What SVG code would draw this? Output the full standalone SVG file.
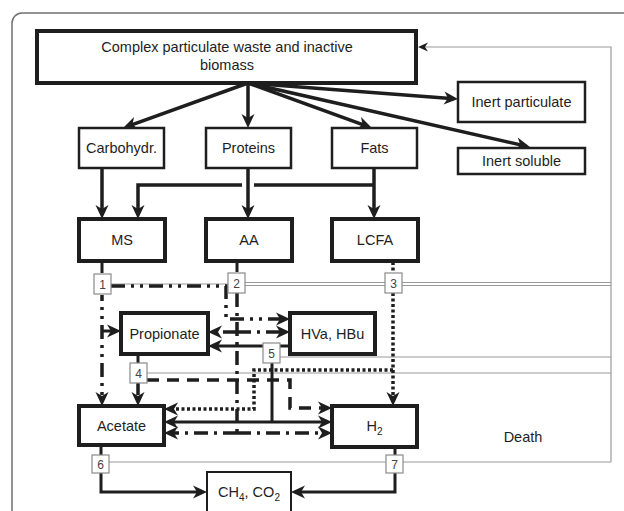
<svg xmlns="http://www.w3.org/2000/svg" width="624" height="511" viewBox="0 0 624 511">
<style>
text{font-family:"Liberation Sans",Arial,sans-serif;font-size:14.5px;fill:#1e1e1e;text-anchor:middle}
.num{font-size:12px;fill:#444}
.thick{fill:#fff;stroke:#1e1e1e;stroke-width:4}
.med{fill:#fff;stroke:#1e1e1e;stroke-width:2.5}
.thin{fill:#fff;stroke:#1e1e1e;stroke-width:2}
.nb{fill:#fff;stroke:#8a8a8a;stroke-width:1.2}
.c{fill:none;stroke:#1e1e1e;stroke-width:3.5}
.s{fill:none;stroke:#1e1e1e;stroke-width:3}
.dd{fill:none;stroke:#1e1e1e;stroke-width:3.5;stroke-dasharray:14 6 3 6 3 6}
.dt{fill:none;stroke:#1e1e1e;stroke-width:3.5;stroke-dasharray:14 6 3 6}
.dot{fill:none;stroke:#1e1e1e;stroke-width:3.5;stroke-dasharray:3 2.5}
.dash{fill:none;stroke:#1e1e1e;stroke-width:3.5;stroke-dasharray:12 8}
.g{fill:none;stroke:#9a9a9a;stroke-width:1.2}
</style>
<defs>
<marker id="ah" viewBox="-11 -7 16 14" refX="0" refY="0" markerWidth="16" markerHeight="14" markerUnits="userSpaceOnUse" orient="auto">
<path d="M-10,-6.5 L4,0 L-10,6.5 L-6,0 Z" fill="#1e1e1e"/>
</marker>
<marker id="ahs" viewBox="-8 -5 12 10" refX="0" refY="0" markerWidth="12" markerHeight="10" markerUnits="userSpaceOnUse" orient="auto">
<path d="M-6,-4.5 L4,0 L-6,4.5 L-3,0 Z" fill="#1e1e1e"/>
</marker>
</defs>
<rect x="12" y="13" width="720" height="620" rx="10" fill="none" stroke="#707070" stroke-width="1.5"/>
<g id="connectors">
<g id="grey-lines">
<path class="g" d="M111 284 H228"/>
<path class="g" d="M245 282.5 H611 M245 285.5 H611"/>
<path class="g" d="M280 357 H611"/>
<path class="g" d="M147 373 H611"/>
<path class="g" d="M109 462 H611"/>
<path class="g" d="M611 462 V47 H422" marker-end="url(#ahs)"/>
</g>
<g id="hydrolysis">
<path class="c" d="M248 83 L126.8 126.6" marker-end="url(#ah)"/>
<path class="c" d="M248 83 V124" marker-end="url(#ah)"/>
<path class="c" d="M248 83 L368.2 126.6" marker-end="url(#ah)"/>
<path class="c" d="M248 83 L454 98.7" marker-end="url(#ah)"/>
<path class="c" d="M248 83 L526.1 146.1" marker-end="url(#ah)"/>
<path class="c" d="M102 168 V215" marker-end="url(#ah)"/>
<path class="c" d="M248 168 V215" marker-end="url(#ah)"/>
<path class="c" d="M374 168 V215" marker-end="url(#ah)"/>
<path class="c" d="M374 185 H254"/>
<path class="c" d="M242 185 H138 V215" marker-end="url(#ah)"/>
</g>
<g id="stubs">
<path class="s" d="M102 261 V273"/>
<path class="s" d="M237 261 V272"/>
<path class="dot" d="M393 262 V272"/>
<path class="s" d="M138 354 V363"/>
<path class="s" d="M101 445 V456"/>
<path class="s" d="M395 447 V456"/>
</g>
<g id="p1">
<path class="dd" d="M102 295 V402" stroke-dashoffset="8" marker-end="url(#ah)"/>
<path class="s" d="M102 331 H117" marker-end="url(#ah)"/>
<path class="dd" d="M111 286 H226 V319 H286" marker-end="url(#ah)"/>
</g>
<g id="p2">
<path class="dt" d="M237 293 V433"/>
<path class="dt" d="M237 332 H212" marker-end="url(#ah)"/>
<path class="dt" d="M237 332 H286" marker-end="url(#ah)"/>
<path class="dt" d="M237 433 H168" marker-end="url(#ah)"/>
<path class="dt" d="M237 433 H328" marker-end="url(#ah)"/>
</g>
<g id="p3">
<path class="dot" d="M393 293 V402" marker-end="url(#ah)"/>
<path class="dot" d="M393 370 H254 V409 H168" marker-end="url(#ah)"/>
</g>
<g id="p4">
<path class="dash" d="M138 383 V402" marker-end="url(#ah)"/>
<path class="dash" d="M147 380 H290 V408 H328" marker-end="url(#ah)"/>
</g>
<g id="p5">
<path class="s" d="M290 346 H212" marker-end="url(#ah)"/>
<path class="s" d="M272 363 V422"/>
<path class="s" d="M272 422 H168" marker-end="url(#ah)"/>
<path class="s" d="M272 422 H328" marker-end="url(#ah)"/>
</g>
<g id="p67">
<path class="s" d="M101 473 V492 H203" marker-end="url(#ah)"/>
<path class="s" d="M395 473 V492 H295" marker-end="url(#ah)"/>
</g>
</g>
<g id="complex"><rect class="thick" x="37" y="31" width="379" height="52"/><text x="227" y="52">Complex particulate waste and inactive</text><text x="227" y="70">biomass</text></g>
<g id="inert-particulate"><rect class="med" x="458" y="82" width="127" height="40"/><text x="521.5" y="107">Inert particulate</text></g>
<g id="inert-soluble"><rect class="med" x="458" y="148" width="127" height="26"/><text x="521.5" y="166">Inert soluble</text></g>
<g id="carbohydr"><rect class="med" x="79" y="128" width="85" height="40"/><text x="121.5" y="153">Carbohydr.</text></g>
<g id="proteins"><rect class="med" x="206" y="128" width="85" height="40"/><text x="248.5" y="153">Proteins</text></g>
<g id="fats"><rect class="med" x="332" y="128" width="85" height="40"/><text x="374.5" y="153">Fats</text></g>
<g id="ms"><rect class="thick" x="79" y="219" width="86" height="42"/><text x="122" y="245">MS</text></g>
<g id="aa"><rect class="thick" x="206" y="219" width="86" height="42"/><text x="249" y="245">AA</text></g>
<g id="lcfa"><rect class="thick" x="332" y="219" width="86" height="42"/><text x="375" y="245">LCFA</text></g>
<g id="propionate"><rect class="thick" x="121" y="313" width="87" height="41"/><text x="164.5" y="338.5">Propionate</text></g>
<g id="hva-hbu"><rect class="thick" x="290" y="313" width="85" height="41"/><text x="332.5" y="338.5">HVa, HBu</text></g>
<g id="acetate"><rect class="thick" x="79" y="406" width="85" height="39"/><text x="121.5" y="430.5">Acetate</text></g>
<g id="h2"><rect class="thick" x="332" y="406" width="85" height="41"/><text x="374.5" y="431">H<tspan font-size="10" dy="4">2</tspan></text></g>
<g id="ch4-co2"><rect class="thin" x="207" y="472" width="84" height="50"/><text x="249" y="497">CH<tspan font-size="10" dy="4">4</tspan><tspan dy="-4">, CO</tspan><tspan font-size="10" dy="4">2</tspan></text></g>
<g id="death"><text x="523" y="442">Death</text></g>
<g id="n1"><rect class="nb" x="94" y="274" width="17" height="20"/><text class="num" x="102.5" y="288.5">1</text></g>
<g id="n2"><rect class="nb" x="228" y="273" width="17" height="20"/><text class="num" x="236.5" y="287.5">2</text></g>
<g id="n3"><rect class="nb" x="385" y="273" width="17" height="20"/><text class="num" x="393.5" y="287.5">3</text></g>
<g id="n4"><rect class="nb" x="130" y="363" width="17" height="20"/><text class="num" x="138.5" y="377.5">4</text></g>
<g id="n5"><rect class="nb" x="263" y="343" width="17" height="20"/><text class="num" x="271.5" y="357.5">5</text></g>
<g id="n6"><rect class="nb" x="92" y="455" width="17" height="18"/><text class="num" x="100.5" y="468.5">6</text></g>
<g id="n7"><rect class="nb" x="386" y="455" width="17" height="18"/><text class="num" x="394.5" y="468.5">7</text></g>
</svg>
